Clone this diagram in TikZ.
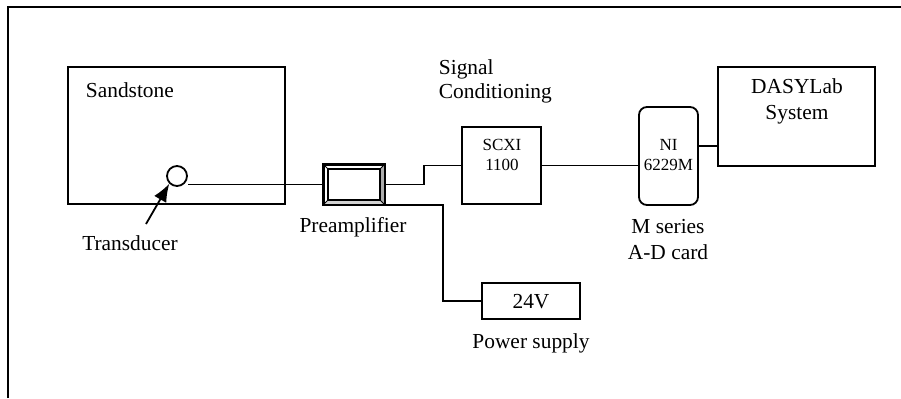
\documentclass[tikz,border=0pt]{standalone}
\usepackage{fontspec}
\setmainfont{Liberation Serif}
\usepackage{tikz}
\usetikzlibrary{calc, arrows.meta, positioning}

\begin{document}
\begin{tikzpicture}[>={Latex[length=9pt,width=7pt]}, x=0.5pt, y=-0.5pt,
    every path/.style={line width=0.9pt},
    box/.style={draw, rectangle, inner sep=0pt},
    lbl/.style={font=\fontsize{10.7}{13}\selectfont, inner sep=0pt, align=center},
    small/.style={font=\fontsize{8.5}{10}\selectfont, inner sep=0pt, align=center}]
    \useasboundingbox (0,0) rectangle (901,398);

    % 1. Khung ngoài (chỉ thấy cạnh trái và cạnh trên)
    \draw[line width=1.3pt] (8,398) -- (8,7) -- (901,7);

    % 2. Khối đá cát và đầu dò
    \node[box, minimum width=108.5pt, minimum height=68.5pt] (sand) at (176.5,135.5) {};
    \node[lbl, anchor=west] (sandtxt) at (85,90) {Sandstone};
    \node[draw, circle, minimum size=10pt, inner sep=0pt] (trans) at (177,176) {};
    \node[lbl] (transtxt) at (130,243) {Transducer};
    \coordinate (tail) at (146,224);
    \draw[->] (tail) -- (trans.south west);

    % 3. Bộ tiền khuếch đại (hộp vát cạnh)
    \node[box, minimum width=30pt, minimum height=19.5pt] (preamp) at (354,184.5) {};
    \coordinate (pin1) at ($(preamp.north west)+(5,5)$);
    \coordinate (pin2) at ($(preamp.south east)+(-5,-5)$);
    \fill[gray!35] (preamp.south west) -- (preamp.south east) -- (pin2) -- (pin1 |- pin2) -- cycle;
    \fill[gray!65] (preamp.south east) -- (preamp.north east) -- (pin2 |- pin1) -- (pin2) -- cycle;
    \draw (pin1) rectangle (pin2);
    \draw[thin] (preamp.north west) -- (pin1) (preamp.south east) -- (pin2);
    \draw[thin] (preamp.north east) -- (pin2 |- pin1) (preamp.south west) -- (pin1 |- pin2);
    \draw (preamp.north west) rectangle (preamp.south east);
    \node[lbl] (preamptxt) at (353,227) {Preamplifier};

    % 4. Khối điều hòa tín hiệu SCXI
    \node[lbl, anchor=west, align=left, font=\fontsize{10.7}{12}\selectfont] (sigtxt) at (438,81) {Signal\\Conditioning};
    \node[box, minimum width=39.5pt, minimum height=38.5pt] (scxi) at (501.5,165.5) {};
    \node[small] (scxitxt) at (502,155) {SCXI\\1100};

    % 5. Card A-D và hệ DASYLab
    \node[box, rounded corners=4pt, minimum width=29.5pt, minimum height=49pt] (ni) at (668.5,156) {};
    \node[small] (nitxt) at (668.5,155.5) {NI\\6229M};
    \node[lbl] (nilbl) at (668,240) {M series\\A-D card};
    \node[box, minimum width=78.5pt, minimum height=49.5pt] (das) at (796.5,116.5) {};
    \node[lbl] (dastxt) at (797,101) {DASYLab\\System};

    % 6. Nguồn 24V
    \node[box, minimum width=49pt, minimum height=18pt] (psu) at (531,301) {};
    \node[lbl] (psutxt) at (531,302) {24V};
    \node[lbl] (psulbl) at (531,343) {Power supply};

    % 7. Dây nối
    \draw (preamp.west) -- (preamp.west -| trans.east);
    \draw (preamp.east) -- ++(39,0) |- (scxi.west);
    \draw (scxi.east) -- (scxi.east -| ni.west);
    \draw (ni.east) ++(0,-10) coordinate (nd) -- (nd -| das.west);
    \draw (preamp.south east) -- ++(58,0) |- (psu.west);
\end{tikzpicture}
\end{document}
